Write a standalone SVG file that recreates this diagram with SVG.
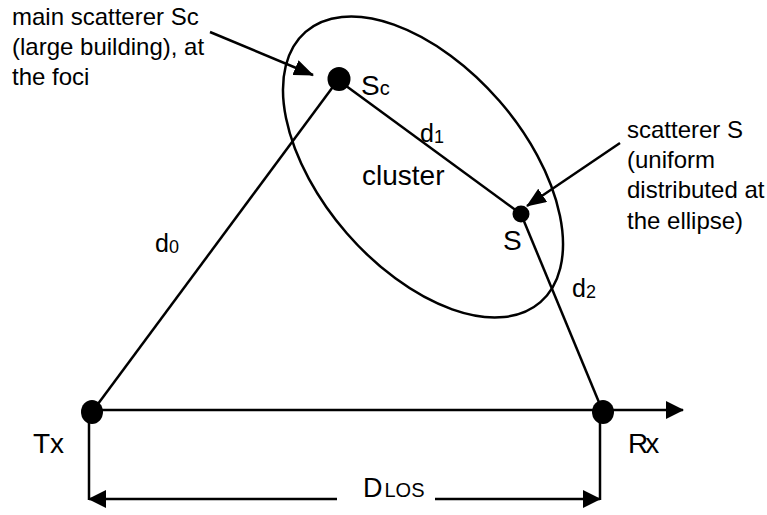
<svg xmlns="http://www.w3.org/2000/svg" width="767" height="515" viewBox="0 0 767 515">
<style>
  .ln { stroke:#000; stroke-width:2.5; fill:none; }
  .dot { fill:#000; }
  .t { font-family:"Liberation Sans", Arial, sans-serif; fill:#000; }
  .big { font-size:28px; }
  .ann { font-size:24px; }
  .dl { font-size:25px; }
  .sub { font-size:18px; }
</style>
<defs>
  <marker id="ah" viewBox="0 0 20 16" refX="19" refY="8" markerWidth="20" markerHeight="16" markerUnits="userSpaceOnUse" orient="auto-start-reverse">
    <path d="M0,0 L20,8 L0,16 z" fill="#000"/>
  </marker>
  <marker id="ahs" viewBox="0 0 18 18" refX="17" refY="9" markerWidth="18" markerHeight="18" markerUnits="userSpaceOnUse" orient="auto-start-reverse">
    <path d="M0,0 L18,9 L0,18 z" fill="#000"/>
  </marker>
</defs>

<g id="cluster">
  <ellipse class="ln" cx="423" cy="167" rx="179" ry="101" transform="rotate(49 423 167)"/>
  <text class="t big" x="362" y="185">cluster</text>
</g>

<g id="connectors">
  <line class="ln" x1="92" y1="412" x2="338" y2="80"/>
  <line class="ln" x1="338" y1="80" x2="521" y2="214"/>
  <line class="ln" x1="521" y1="214" x2="603" y2="412"/>
  <line class="ln" x1="92" y1="410" x2="683" y2="410" marker-end="url(#ahs)"/>
  <line class="ln" x1="89" y1="412" x2="89" y2="500"/>
  <line class="ln" x1="600" y1="412" x2="600" y2="500"/>
  <line class="ln" x1="89" y1="499" x2="337" y2="499" marker-start="url(#ahs)"/>
  <line class="ln" x1="435" y1="499" x2="600" y2="499" marker-end="url(#ahs)"/>
  <line class="ln" x1="210" y1="32" x2="313" y2="75" marker-end="url(#ah)"/>
  <line class="ln" x1="620" y1="143" x2="527" y2="206" marker-end="url(#ah)"/>
  <text class="t dl" x="155" y="252">d<tspan class="sub" dy="1">0</tspan></text>
  <text class="t dl" x="420" y="142">d<tspan class="sub" dy="1">1</tspan></text>
  <text class="t dl" x="572" y="297">d<tspan class="sub" dy="1">2</tspan></text>
  <text class="t" x="363" y="497" font-size="27">D<tspan font-size="20" dx="2">LOS</tspan></text>
</g>

<g id="Tx">
  <ellipse class="dot" cx="92" cy="412" rx="11" ry="12"/>
  <text class="t big" x="33" y="453">Tx</text>
</g>

<g id="Rx">
  <ellipse class="dot" cx="603" cy="412" rx="11" ry="12"/>
  <text class="t big" x="628" y="453" letter-spacing="-3">Rx</text>
</g>

<g id="Sc">
  <ellipse class="dot" cx="339" cy="79" rx="11.5" ry="12"/>
  <text class="t big" x="361" y="95">S<tspan font-size="20">c</tspan></text>
</g>

<g id="S">
  <circle class="dot" cx="521" cy="214" r="8.5"/>
  <text class="t big" x="503" y="250">S</text>
</g>

<g id="note-main">
  <text class="t ann" x="12" y="25">main scatterer Sc</text>
  <text class="t ann" x="12" y="55">(large building), at</text>
  <text class="t ann" x="12" y="85">the foci</text>
</g>

<g id="note-s">
  <text class="t ann" x="627" y="138">scatterer S</text>
  <text class="t ann" x="627" y="168">(uniform</text>
  <text class="t ann" x="627" y="198">distributed at</text>
  <text class="t ann" x="627" y="229">the ellipse)</text>
</g>
</svg>
